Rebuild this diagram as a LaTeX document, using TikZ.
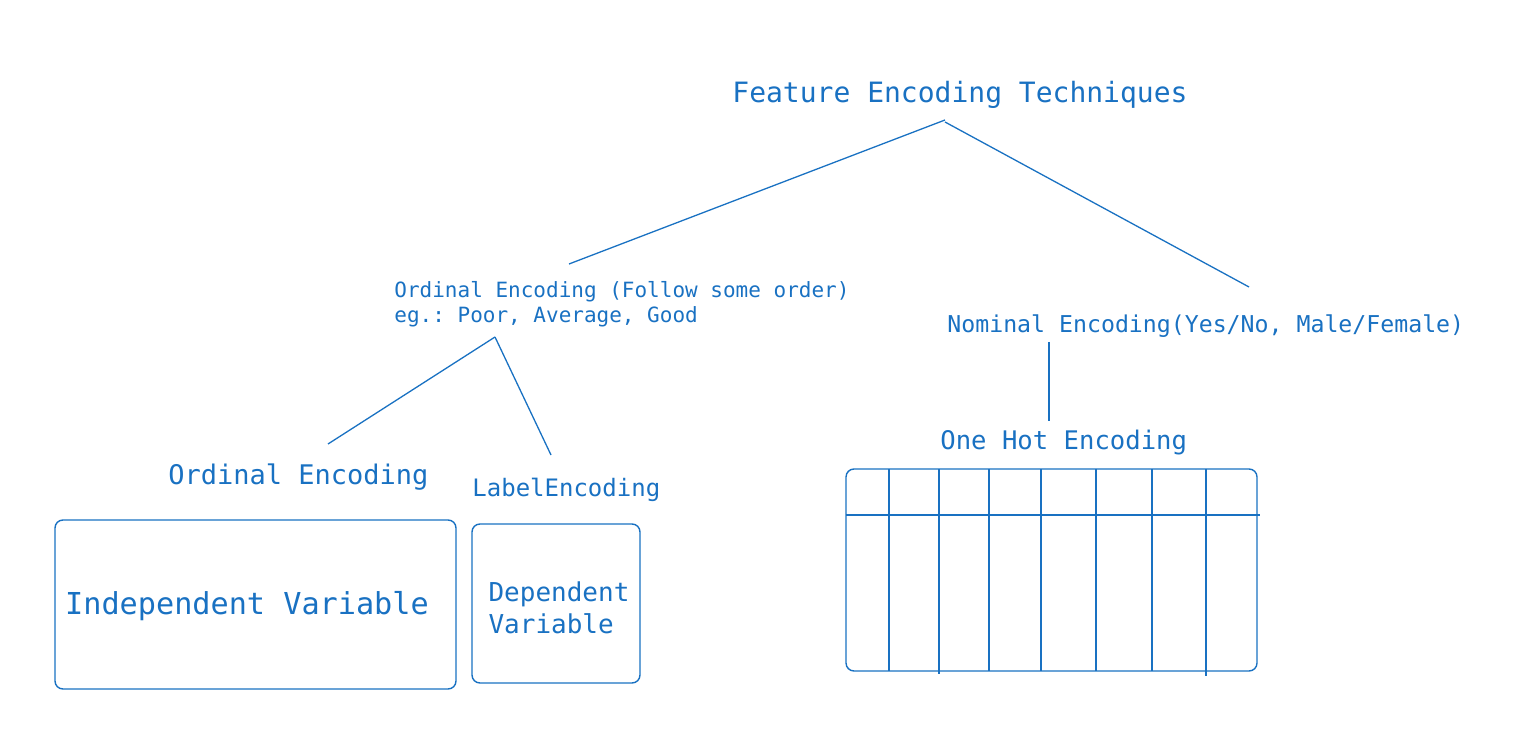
\documentclass[tikz,border=0pt]{standalone}
\usepackage{fontspec}
\setmonofont{DejaVu Sans Mono}
\usepackage{xcolor}
\usepackage{tikz}
\usetikzlibrary{positioning,calc}
\definecolor{skblue}{RGB}{25,113,194}

\begin{document}
\begin{tikzpicture}[x=0.5pt,y=-0.5pt,
	txt/.style={text=skblue,inner sep=0pt,anchor=base west},
	link/.style={draw=skblue,line width=0.65pt},
	box/.style={draw=skblue,line width=0.7pt,rounded corners=4pt}]
	\useasboundingbox (0,0) rectangle (1530,731);
	
	% tiêu đề
	\node[txt,font=\ttfamily\fontsize{14}{17}\selectfont] (title) at (732,103) {Feature Encoding Techniques};
	
	% hai nhánh
	\node[txt,align=left,font=\ttfamily\fontsize{10.5}{12.8}\selectfont] (ord) at (394,323) {Ordinal Encoding (Follow some order)\\eg.: Poor, Average, Good};
	\node[txt,font=\ttfamily\fontsize{11.6}{14}\selectfont] (nom) at (947,333) {Nominal Encoding(Yes/No, Male/Female)};
	
	% các lá
	\node[txt,font=\ttfamily\fontsize{13.5}{16}\selectfont] (ordenc) at (168,485) {Ordinal Encoding};
	\node[txt,font=\ttfamily\fontsize{12}{14}\selectfont] (labenc) at (472,496) {LabelEncoding};
	\node[txt,font=\ttfamily\fontsize{12.8}{15}\selectfont] (ohe) at (940,450) {One Hot Encoding};
	
	% điểm neo cho các đường nối
	\coordinate (title-l) at (945,120);
	\coordinate (title-r) at (945,122);
	\coordinate (ord-t) at (569,264);
	\coordinate (nom-t) at (1249,287);
	\coordinate (ord-b) at (495,337);
	\coordinate (ordenc-t) at (328,444);
	\coordinate (labenc-t) at (551,455);
	\coordinate (nom-b) at (1049,342);
	\coordinate (ohe-t) at (1049,421);
	
	\draw[link] (title-l) -- (ord-t);
	\draw[link] (title-r) -- (nom-t);
	\draw[link] (ord-b) -- (ordenc-t);
	\draw[link] (ord-b) -- (labenc-t);
	\draw[link] (nom-b) -- (ohe-t);
	
	% các hộp biến
	\draw[box] (55,520) rectangle (456,689);
	\node[txt,anchor=center,font=\ttfamily\fontsize{15.1}{18}\selectfont] (indep) at (247,606) {Independent Variable};
	\draw[box] (472,524) rectangle (640,683);
	\node[txt,anchor=center,align=left,font=\ttfamily\fontsize{13}{16}\selectfont] (dep) at (559,608) {Dependent\\Variable};
	
	% bảng one hot
	\draw[box] (846,469) rectangle (1257,671);
	\draw[link] (846,515) -- (1260,515);
	\foreach \x/\b in {889/671,939/674,989/671,1041/671,1096/671,1152/671,1206/676} {
		\draw[link] (\x,469) -- (\x,\b);
	}
\end{tikzpicture}
\end{document}
